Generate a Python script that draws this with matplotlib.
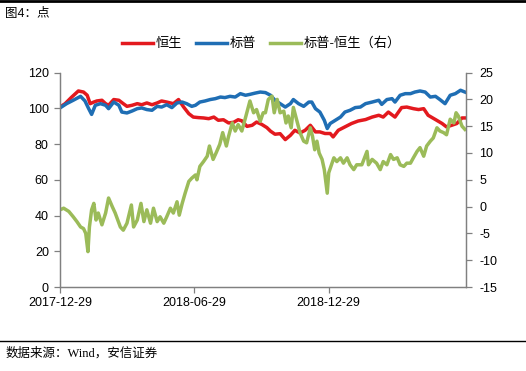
import pandas as pd
import matplotlib
matplotlib.use("Agg")
import matplotlib.pyplot as plt
from matplotlib.lines import Line2D

plt.rcParams['font.family'] = ['Liberation Sans', 'Noto Sans CJK SC']
plt.rcParams['axes.unicode_minus'] = False

start = pd.Timestamp('2017-12-29')

# 恒生 (left axis): days since 2017-12-29, index level
hs_days = [0, 7, 16, 25, 32, 37, 41, 46, 50, 57, 62, 66, 73, 80, 86, 91, 98, 105,
           111, 118, 125, 132, 138, 145, 154, 161, 168, 175, 181, 188, 195, 202,
           209, 215, 222, 229, 236, 242, 247, 254, 261, 267, 274, 281, 286, 292,
           299, 306, 313, 319, 326, 333, 340, 347, 353, 360, 367, 371, 378, 387,
           396, 405, 415, 424, 433, 439, 446, 455, 464, 471, 480, 487, 494, 500,
           510, 519, 525, 532, 539, 546, 550]
hs_vals = [100.7, 102.6, 106.3, 109.7, 109.1, 107.3, 102.6, 103.5, 104.1, 104.5,
           102.6, 101.7, 104.9, 104.5, 102.6, 101.1, 101.7, 102.6, 102.0, 103.0,
           102.0, 103.0, 104.1, 103.5, 102.6, 104.9, 100.7, 97.0, 95.1, 94.8, 94.6,
           94.2, 95.1, 93.3, 93.6, 91.8, 92.2, 93.6, 93.0, 89.9, 90.5, 92.3, 91.0,
           89.2, 87.2, 85.5, 85.8, 82.5, 84.9, 87.7, 86.2, 87.7, 90.5, 86.8, 86.8,
           85.9, 85.9, 84.0, 87.7, 89.6, 91.5, 92.9, 93.7, 95.1, 96.1, 95.1, 97.9,
           95.1, 100.4, 100.7, 99.8, 99.3, 99.8, 96.1, 93.7, 91.5, 89.6, 90.5, 91.5,
           94.6, 94.6]

# 标普 (left axis)
sp_days = [0, 9, 18, 28, 34, 39, 43, 48, 55, 62, 66, 73, 80, 84, 91, 98, 105, 111,
           118, 125, 132, 138, 145, 152, 159, 166, 172, 179, 184, 190, 197, 204,
           211, 218, 224, 231, 238, 245, 252, 258, 265, 272, 279, 286, 292, 299,
           306, 313, 317, 324, 331, 338, 342, 347, 353, 359, 363, 367, 374, 381,
           387, 394, 401, 408, 415, 424, 433, 437, 444, 451, 455, 462, 469, 476,
           482, 489, 496, 503, 510, 516, 523, 530, 537, 544, 550]
sp_vals = [100.2, 102.6, 104.5, 106.7, 104.1, 99.8, 96.6, 101.7, 102.6, 101.7, 99.8,
           103.5, 101.7, 97.9, 97.4, 98.5, 99.8, 100.2, 99.3, 98.9, 101.1, 100.7,
           102.0, 100.4, 103.0, 103.5, 102.6, 101.1, 101.7, 103.5, 104.1, 104.9,
           105.4, 106.3, 106.0, 106.7, 106.3, 108.2, 107.3, 107.8, 108.5, 109.1,
           108.8, 107.3, 104.5, 102.6, 100.7, 102.6, 104.9, 102.6, 101.1, 103.5,
           103.5, 99.8, 97.9, 93.3, 88.7, 91.5, 93.3, 95.1, 97.9, 98.9, 100.4, 100.7,
           102.6, 103.5, 104.5, 102.2, 104.9, 105.4, 103.5, 107.3, 108.2, 108.2,
           109.1, 109.7, 109.1, 106.3, 106.7, 104.9, 102.6, 107.3, 108.2, 110.1,
           109.1]

# 标普-恒生 (right axis)
diff_days = [0, 5, 12, 18, 23, 28, 32, 35, 38, 40, 43, 46, 49, 52, 57, 62, 66, 71,
             75, 82, 86, 91, 97, 100, 105, 110, 114, 118, 123, 127, 132, 136, 141,
             145, 150, 154, 159, 162, 166, 170, 175, 179, 184, 186, 190, 195, 200,
             203, 208, 212, 217, 221, 226, 229, 234, 238, 242, 247, 252, 258, 263,
             267, 272, 276, 279, 283, 288, 291, 295, 299, 304, 307, 310, 314, 317,
             322, 326, 331, 335, 340, 343, 346, 349, 352, 356, 359, 363, 365, 368,
             372, 376, 381, 385, 390, 394, 399, 403, 410, 417, 419, 424, 430, 435,
             439, 444, 449, 453, 458, 462, 467, 471, 476, 480, 485, 489, 494, 498,
             503, 507, 512, 516, 521, 525, 530, 535, 538, 541, 546, 550]
diff_vals = [-0.6, -0.3, -0.9, -1.9, -2.8, -3.8, -4.1, -5.0, -8.4, -3.8, -0.6, 0.6,
             -2.5, -1.2, -3.4, -1.2, 1.6, 0.0, -1.2, -3.8, -4.4, -3.1, 0.3, -3.8,
             -2.5, 0.6, -2.8, -0.6, -3.1, -0.3, -2.8, -1.9, -3.1, -1.9, -0.3, -1.2,
             0.9, -1.6, 0.6, 2.5, 4.7, 5.3, 5.9, 5.0, 7.5, 8.4, 9.4, 11.3, 8.8, 10.0,
             11.6, 13.8, 11.3, 13.1, 15.6, 14.1, 15.3, 14.1, 16.6, 19.7, 17.5, 18.1,
             15.9, 17.5, 17.5, 20.0, 20.6, 17.5, 20.0, 17.5, 17.8, 15.6, 16.9, 14.7,
             18.5, 15.9, 13.8, 12.2, 11.9, 14.7, 13.1, 10.6, 12.2, 10.0, 8.8, 6.9,
             2.5, 6.3, 7.5, 9.1, 8.4, 9.1, 8.1, 9.1, 7.8, 6.9, 7.8, 7.8, 10.3, 7.8,
             8.8, 8.1, 6.9, 8.4, 7.8, 9.7, 8.8, 9.1, 7.8, 7.5, 8.1, 8.1, 9.1, 10.3,
             11.0, 9.4, 11.3, 12.2, 12.8, 14.7, 14.1, 13.8, 13.4, 16.3, 15.6, 17.5,
             16.9, 15.0, 14.4]

tick_dates = ['2017-12-29', '2018-06-29', '2018-12-29']
tick_labels = ['2017-12-29', '2018-06-29', '2018-12-29']


def to_dates(days):
    return start + pd.to_timedelta(days, unit='D')


fig = plt.figure(figsize=(5.26, 3.71), dpi=100)
ax = fig.add_axes([0.114, 0.2264, 0.7713, 0.578])
ax2 = ax.twinx()

red = '#E3191E'
blue = '#1F6EB4'
green = '#9BBB59'
grey = '#808080'

l1, = ax.plot(to_dates(hs_days), hs_vals, color=red, lw=2.5, label='恒生')
l2, = ax.plot(to_dates(sp_days), sp_vals, color=blue, lw=2.5, label='标普')
l3, = ax2.plot(to_dates(diff_days), diff_vals, color=green, lw=2.5, label='标普-恒生（右）')

ax.set_xlim(start, start + pd.Timedelta(days=551))
ax.set_ylim(0, 120)
ax.set_yticks(range(0, 121, 20))
ax2.set_ylim(-15, 25)
ax2.set_yticks(range(-15, 26, 5))
ax.set_xticks(pd.to_datetime(tick_dates))
ax.set_xticklabels(tick_labels)

for a in (ax, ax2):
    a.spines['top'].set_visible(False)
    for s in ('left', 'right', 'bottom'):
        a.spines[s].set_color(grey)
        a.spines[s].set_linewidth(0.9)
    a.tick_params(axis='both', colors=grey, labelcolor='black', labelsize=9,
                  length=4, width=0.9, direction='out')
ax.tick_params(axis='x', pad=3)
ax.tick_params(axis='y', pad=4)
ax2.tick_params(axis='y', pad=6)

fig.legend(handles=[l1, l2, l3], loc='center', bbox_to_anchor=(0.497, 0.882),
           ncol=3, frameon=False, fontsize=9.5, handlelength=2.3,
           handletextpad=0.2, columnspacing=1.1)

fig.text(0.01, 0.963, '图4：点', fontsize=9, va='center', ha='left')
fig.text(0.01, 0.048, '数据来源：Wind，安信证券', fontsize=9, va='center', ha='left',
         family=['Liberation Serif', 'Noto Sans CJK SC'])

fig.add_artist(Line2D([0, 1], [0.997, 0.997], color='black', lw=2.0,
                      transform=fig.transFigure))
fig.add_artist(Line2D([0, 1], [1 - 341 / 371, 1 - 341 / 371], color='black', lw=1.0,
                      transform=fig.transFigure))

fig.savefig('out.png', dpi=100)
